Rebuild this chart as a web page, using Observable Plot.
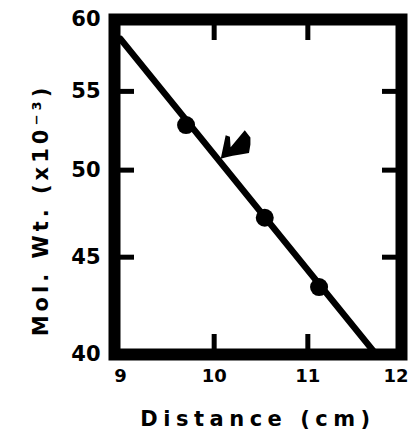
<!DOCTYPE html>
<html>
<head>
<meta charset="utf-8">
<script src="https://cdn.jsdelivr.net/npm/d3@7"></script>
<script src="https://cdn.jsdelivr.net/npm/@observablehq/plot@0.6"></script>
<style>
  html, body { margin: 0; padding: 0; background: #fff; }
  #chart { width: 409px; height: 429px; }
</style>
</head>
<body>
<div id="chart"></div>
<script>
// ---- data ----
const xTickLabels = [9, 10, 11];
const xLastTickLabel = [12];
const yTickLabels = [40, 45, 50, 55, 60];
const xInnerTicks = [10, 11];
const yInnerTicks = [45, 50, 55];

const pointX = [9.70, 10.54, 11.12];
const pointY = [52.8, 47.2, 43.4];

const lineX = [9, 11.73];
const lineY = [58.6, 40];

const arrowX = [10.07];
const arrowY = [50.7];

const xTitle = "Distance (cm)";
const yTitle = "Mol. Wt. (x10\u207B\u00B3)";

// ---- tables built from the arrays ----
const points = pointX.map((x, i) => ({x, y: pointY[i]}));
const fit = lineX.map((x, i) => ({x, y: lineY[i]}));
const arrows = arrowX.map((x, i) => ({x, y: arrowY[i]}));

// arrowhead glyph (tip at origin, pointing "up" before rotation)
const arrowHead = {
  draw(ctx) {
    ctx.moveTo(0, 0);
    ctx.lineTo(-13, -20);
    ctx.lineTo(-9, -22);
    ctx.lineTo(-1, -15);
    ctx.lineTo(-3, -37);
    ctx.lineTo(6, -36);
    ctx.lineTo(11, -31);
    ctx.lineTo(16, -24);
    ctx.quadraticCurveTo(5, -9, 0, 0);
    ctx.closePath();
  }
};

const font = "DejaVu Sans";

const chart = Plot.plot({
  width: 409,
  height: 429,
  marginLeft: 114,
  marginRight: 8,
  marginTop: 19,
  marginBottom: 75,
  x: {domain: [9, 12], insetLeft: 6},
  y: {type: "log", domain: [40, 60]},
  style: {fontFamily: font, background: "#fff", color: "#000"},
  marks: [
    Plot.line(fit, {x: "x", y: "y", stroke: "black", strokeWidth: 6.5}),
    Plot.dot(points, {x: "x", y: "y", r: 9, fill: "black", stroke: "none"}),
    Plot.dot(arrows, {x: "x", y: "y", symbol: arrowHead, rotate: 45, fill: "black", stroke: "none"}),
    Plot.frame({stroke: "black", strokeWidth: 12}),
    // inward ticks
    Plot.axisX({anchor: "bottom", ticks: xInnerTicks, tickSize: -20, strokeWidth: 5, tickFormat: () => "", label: null}),
    Plot.axisX({anchor: "top", ticks: xInnerTicks, tickSize: -20, strokeWidth: 5, tickFormat: () => "", label: null}),
    Plot.axisY({anchor: "left", ticks: yInnerTicks, tickSize: -20, strokeWidth: 5, tickFormat: () => "", label: null}),
    Plot.axisY({anchor: "right", ticks: yInnerTicks, tickSize: -20, strokeWidth: 5, tickFormat: () => "", label: null}),
    // tick labels
    Plot.axisX({anchor: "bottom", ticks: xTickLabels, tickSize: 0, tickPadding: 15, fontSize: 18, fontWeight: "bold", label: null, tickFormat: d => String(d)}),
    Plot.axisX({anchor: "bottom", ticks: xLastTickLabel, tickSize: 0, tickPadding: 15, fontSize: 18, fontWeight: "bold", label: null, textAnchor: "end", dx: 7, tickFormat: d => String(d)}),
    Plot.axisY({anchor: "left", ticks: yTickLabels, tickSize: 0, tickPadding: 14, fontSize: 21, fontWeight: "bold", label: null, tickFormat: d => String(d)}),
    // axis titles
    Plot.text([xTitle], {frameAnchor: "bottom", dy: 71, lineAnchor: "bottom", textAnchor: "middle", text: d => d, fontSize: 21, fontWeight: "bold", fill: "black"}),
    Plot.text([yTitle], {frameAnchor: "left", dx: -67, dy: 23, rotate: -90, lineAnchor: "bottom", textAnchor: "middle", text: d => d, fontSize: 21, fontWeight: "bold", fill: "black"})
  ]
});

// letter spacing for the titles
chart.querySelectorAll("text").forEach(t => {
  if (t.textContent === xTitle) t.style.letterSpacing = "5.5px";
  if (t.textContent === yTitle) t.style.letterSpacing = "4px";
});

document.getElementById("chart").appendChild(chart);
</script>
</body>
</html>
